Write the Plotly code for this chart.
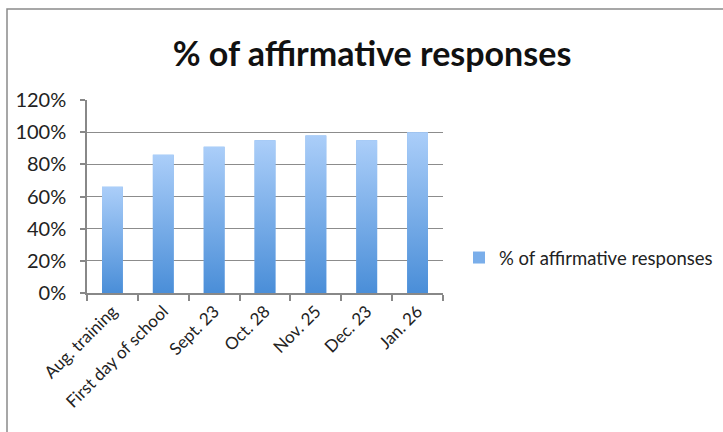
import plotly.graph_objects as go

categories = ["Aug. training", "First day of school", "Sept. 23", "Oct. 28",
              "Nov. 25", "Dec. 23", "Jan. 26"]
values = [0.66, 0.86, 0.91, 0.95, 0.98, 0.95, 1.00]
series_name = "% of affirmative responses"
y_ticks = [0, 0.2, 0.4, 0.6, 0.8, 1.0, 1.2]

BAR_W = 0.41
positions = list(range(len(categories)))

fig = go.Figure()

# Base bar trace (carries legend entry)
fig.add_trace(go.Bar(
    x=positions, y=values, width=BAR_W, name=series_name,
    marker=dict(color="#7aaeea", line=dict(width=0)),
    showlegend=True,
))

# Gradient overlay for each bar, built from the same values
for i, v in zip(positions, values):
    fig.add_trace(go.Scatter(
        x=[i - BAR_W / 2, i + BAR_W / 2, i + BAR_W / 2, i - BAR_W / 2, i - BAR_W / 2],
        y=[0, 0, v, v, 0],
        mode="lines", line=dict(width=0), fill="toself",
        fillgradient=dict(type="vertical",
                          colorscale=[[0, "#4a8ed8"], [1, "#abcef9"]]),
        hoverinfo="skip", showlegend=False,
    ))

fig.update_layout(
    width=723, height=432,
    margin=dict(l=87, r=280, t=100, b=139, autoexpand=False),
    paper_bgcolor="white", plot_bgcolor="white",
    font=dict(family="Lato, 'Open Sans', sans-serif", color="#222", size=17),
    title=dict(text="<b>% of affirmative responses</b>",
               x=(372 / 723), xanchor="center", y=1 - 54 / 432, yanchor="middle",
               font=dict(size=34, color="#111")),
    showlegend=True,
    legend=dict(x=(459 - 87) / 356, y=(293 - 258) / 193, xanchor="left", yanchor="middle",
                font=dict(size=18.5, color="#222"), bgcolor="rgba(0,0,0,0)",
                itemwidth=30),
    bargap=0.59,
)

fig.update_xaxes(
    range=[-0.5, len(categories) - 0.5],
    tickmode="array", tickvals=positions, ticktext=categories,
    tickangle=-45, ticks="", showgrid=False, zeroline=False,
    showline=True, linecolor="#888", linewidth=1.5,
    tickfont=dict(size=17, color="#222"),
    minor=dict(ticks="outside", tick0=-0.5, dtick=1, ticklen=6,
               tickcolor="#888", tickwidth=1.5, showgrid=False),
)

fig.update_yaxes(
    range=[0, 1.2], tickmode="array", tickvals=y_ticks, tickformat=".0%",
    showgrid=True, gridcolor="#8c8c8c", gridwidth=1.2, zeroline=False,
    showline=True, linecolor="#888", linewidth=1.5,
    ticks="outside", ticklen=5, tickcolor="#888", tickwidth=1.5,
    ticklabelstandoff=10,
    tickfont=dict(size=20, color="#222"),
)

# Outer chart frame
fig.add_shape(type="rect", xref="paper", yref="paper",
              x0=(7 - 87) / 356, x1=2.0, y0=-1.0, y1=(293 - 9) / 193,
              line=dict(color="#8a8a8a", width=1.5), fillcolor="rgba(0,0,0,0)",
              layer="below")

fig.write_html("out.html")
